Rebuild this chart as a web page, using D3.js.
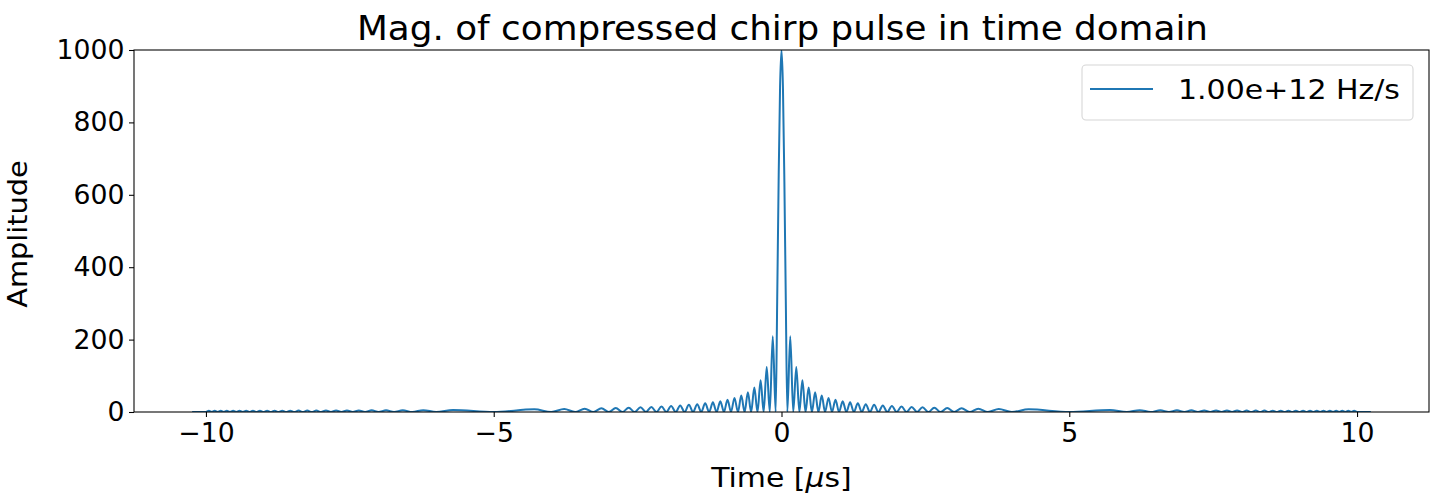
<!DOCTYPE html>
<html>
<head>
<meta charset="utf-8">
<script src="https://cdn.jsdelivr.net/npm/d3@7"></script>
<style>
  html, body { margin: 0; padding: 0; background: #fff; }
  text { font-family: "DejaVu Sans", sans-serif; fill: #000; }
</style>
</head>
<body>
<svg id="chart" width="1432" height="495"></svg>
<script>
// ---- data ----
const title = "Mag. of compressed chirp pulse in time domain";
const seriesLabel = "1.00e+12 Hz/s";
const xTicks = [-10, -5, 0, 5, 10];
const yTicks = [0, 200, 400, 600, 800, 1000];

// time in microseconds
const timeUs = [
  -10.24, -10.000, -9.950, -9.899, -9.848, -9.796, -9.743, -9.690, -9.637, -9.583,
  -9.528, -9.472, -9.416, -9.359, -9.301, -9.243, -9.183, -9.123, -9.062, -9.000,
  -8.937, -8.873, -8.808, -8.742, -8.674, -8.606, -8.536, -8.464, -8.391, -8.317,
  -8.240, -8.162, -8.082, -8.000, -7.915, -7.828, -7.739, -7.646, -7.550, -7.449,
  -7.345, -7.236, -7.121, -7.000, -6.871, -6.732, -6.581, -6.414, -6.225, -6.000,
  -5.707, -5.000, -4.293, -4.000, -3.775, -3.586, -3.419, -3.268, -3.129, -3.000,
  -2.879, -2.764, -2.655, -2.551, -2.450, -2.354, -2.261, -2.172, -2.085, -2.000,
  -1.918, -1.838, -1.760, -1.683, -1.609, -1.536, -1.464, -1.394, -1.326, -1.258,
  -1.192, -1.127, -1.063, -1.000, -0.938, -0.877, -0.817, -0.757, -0.699, -0.641,
  -0.584, -0.528, -0.472, -0.417, -0.363, -0.310, -0.257, -0.204, -0.152, -0.101,
  -0.075, -0.050, -0.025,
  0,
  0.025, 0.050, 0.075,
  0.101, 0.152, 0.204, 0.257, 0.310, 0.363, 0.417, 0.472, 0.528, 0.584,
  0.641, 0.699, 0.757, 0.817, 0.877, 0.938, 1.000, 1.063, 1.127, 1.192,
  1.258, 1.326, 1.394, 1.464, 1.536, 1.609, 1.683, 1.760, 1.838, 1.918,
  2.000, 2.085, 2.172, 2.261, 2.354, 2.450, 2.551, 2.655, 2.764, 2.879,
  3.000, 3.129, 3.268, 3.419, 3.586, 3.775, 4.000, 4.293, 5.000, 5.707,
  6.000, 6.225, 6.414, 6.581, 6.732, 6.871, 7.000, 7.121, 7.236, 7.345,
  7.449, 7.550, 7.646, 7.739, 7.828, 7.915, 8.000, 8.082, 8.162, 8.240,
  8.317, 8.391, 8.464, 8.536, 8.606, 8.674, 8.742, 8.808, 8.873, 8.937,
  9.000, 9.062, 9.123, 9.183, 9.243, 9.301, 9.359, 9.416, 9.472, 9.528,
  9.583, 9.637, 9.690, 9.743, 9.796, 9.848, 9.899, 9.950, 10.000, 10.24
];

const amplitude = [
  0, 0, 3.2, 0, 3.2, 0, 3.3, 0, 3.3, 0,
  3.3, 0, 3.4, 0, 3.4, 0, 3.5, 0, 3.5, 0,
  3.6, 0, 3.6, 0, 3.7, 0, 3.7, 0, 3.8, 0,
  3.9, 0, 3.9, 0, 4.0, 0, 4.1, 0, 4.2, 0,
  4.3, 0, 4.5, 0, 4.6, 0, 4.8, 0, 5.1, 0,
  5.6, 0, 7.4, 0, 8.4, 0, 9.3, 0, 10.2, 0,
  11.1, 0, 12.0, 0, 13.0, 0, 14.1, 0, 15.3, 0,
  16.6, 0, 18.1, 0, 19.8, 0, 21.7, 0, 24.0, 0,
  26.7, 0, 29.9, 0, 33.9, 0, 39.0, 0, 45.5, 0,
  54.5, 0, 67.4, 0, 87.7, 0, 124, 0, 209, 0,
  305, 637, 898,
  1000,
  898, 637, 305,
  0, 209, 0, 124, 0, 87.7, 0, 67.4, 0, 54.5,
  0, 45.5, 0, 39.0, 0, 33.9, 0, 29.9, 0, 26.7,
  0, 24.0, 0, 21.7, 0, 19.8, 0, 18.1, 0, 16.6,
  0, 15.3, 0, 14.1, 0, 13.0, 0, 12.0, 0, 11.1,
  0, 10.2, 0, 9.3, 0, 8.4, 0, 7.4, 0, 5.6,
  0, 5.1, 0, 4.8, 0, 4.6, 0, 4.5, 0, 4.3,
  0, 4.2, 0, 4.1, 0, 4.0, 0, 3.9, 0, 3.9,
  0, 3.8, 0, 3.7, 0, 3.7, 0, 3.6, 0, 3.6,
  0, 3.5, 0, 3.5, 0, 3.4, 0, 3.4, 0, 3.3,
  0, 3.3, 0, 3.3, 0, 3.2, 0, 3.2, 0, 0
];

// ---- layout ----
const W = 1432, H = 495;
const plot = { left: 134, right: 1429, top: 50, bottom: 412 };
const lineColor = "#1f77b4";
const tickFont = 26.7;

const svg = d3.select("#chart");

const x = d3.scaleLinear().domain([-11.25, 11.25]).range([plot.left, plot.right]);
const y = d3.scaleLinear().domain([0, 1000]).range([plot.bottom, plot.top]);

const data = timeUs.map((t, i) => ({ t, a: amplitude[i] }));

// clip
svg.append("defs").append("clipPath").attr("id", "clip")
  .append("rect")
  .attr("x", plot.left).attr("y", plot.top)
  .attr("width", plot.right - plot.left).attr("height", plot.bottom - plot.top);

// line
const line = d3.line()
  .x(d => x(d.t))
  .y(d => y(d.a))
  .curve(d3.curveMonotoneX);

svg.append("path")
  .datum(data)
  .attr("clip-path", "url(#clip)")
  .attr("fill", "none")
  .attr("stroke", lineColor)
  .attr("stroke-width", 2)
  .attr("stroke-linejoin", "round")
  .attr("d", line);

// axes
const fmt = d3.format("");
const xAxis = d3.axisBottom(x).tickValues(xTicks).tickFormat(d => fmt(d))
  .tickSize(5).tickPadding(4.5);
const yAxis = d3.axisLeft(y).tickValues(yTicks).tickFormat(d => fmt(d))
  .tickSize(5).tickPadding(4.5);

const gx = svg.append("g").attr("transform", `translate(0,${plot.bottom})`).call(xAxis);
const gy = svg.append("g").attr("transform", `translate(${plot.left},0)`).call(yAxis);

[gx, gy].forEach(g => {
  g.select(".domain").remove();
  g.selectAll(".tick line").attr("stroke", "#000").attr("stroke-width", 1.07);
  g.selectAll(".tick text")
    .attr("fill", "#000")
    .style("font-family", "'DejaVu Sans', sans-serif")
    .style("font-size", tickFont + "px");
});
gx.selectAll(".tick text").attr("dy", "0.76em");

// frame
svg.append("rect")
  .attr("x", plot.left).attr("y", plot.top)
  .attr("width", plot.right - plot.left).attr("height", plot.bottom - plot.top)
  .attr("fill", "none").attr("stroke", "#000").attr("stroke-width", 1.07);

// title
svg.append("text")
  .attr("x", 357)
  .attr("y", 40)
  .attr("textLength", 851)
  .attr("lengthAdjust", "spacingAndGlyphs")
  .style("font-size", "34px")
  .text(title);

// x label
const xl = svg.append("g")
  .attr("transform", `translate(${(plot.left + plot.right) / 2},487) scale(1.12,1)`)
  .append("text")
  .attr("x", 0).attr("y", 0)
  .attr("text-anchor", "middle")
  .style("font-size", tickFont + "px");
xl.append("tspan").text("Time [");
xl.append("tspan").style("font-style", "italic").text("μ");
xl.append("tspan").text("s]");

// y label
svg.append("g")
  .attr("transform", `translate(27,234) rotate(-90) scale(1.08,1)`)
  .append("text")
  .attr("text-anchor", "middle")
  .style("font-size", tickFont + "px")
  .text("Amplitude");

// legend
const lg = svg.append("g");
lg.append("rect")
  .attr("x", 1082).attr("y", 65)
  .attr("width", 331).attr("height", 55)
  .attr("rx", 4).attr("ry", 4)
  .attr("fill", "rgba(255,255,255,0.8)")
  .attr("stroke", "#d6d6d6").attr("stroke-width", 1.07);
lg.append("line")
  .attr("x1", 1090).attr("x2", 1153)
  .attr("y1", 89).attr("y2", 89)
  .attr("stroke", lineColor).attr("stroke-width", 2);
lg.append("text")
  .attr("x", 1178).attr("y", 99)
  .attr("textLength", 222)
  .attr("lengthAdjust", "spacingAndGlyphs")
  .style("font-size", tickFont + "px")
  .text(seriesLabel);
</script>
</body>
</html>
